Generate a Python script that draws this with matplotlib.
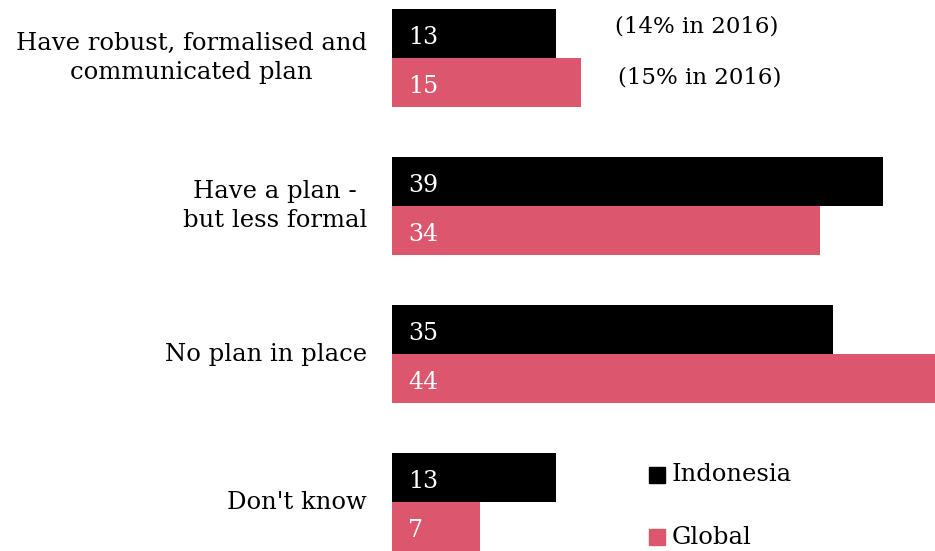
import numpy as np
from matplotlib import pyplot as plt

categories = ["Have robust, formalised and\ncommunicated plan",
              "Have a plan -\nbut less formal",
              "No plan in place",
              "Don't know"]
indonesia = [13, 39, 35, 13]
global_vals = [15, 34, 44, 7]
notes = ["(14% in 2016)", "(15% in 2016)"]

BLACK = "#000000"
PINK = "#DC566D"

plt.rcParams['font.family'] = ['DejaVu Serif']

fig = plt.figure(figsize=(9.35, 5.51), dpi=100)
ax = fig.add_axes([392 / 935, 0, 1 - 392 / 935, 1])

y = np.arange(len(categories))
h = 0.331
ax.barh(y - h / 2, indonesia, height=h, color=BLACK)
ax.barh(y + h / 2, global_vals, height=h, color=PINK)

ax.set_xlim(0, 43.1)
ax.set_ylim(3.331, -0.392)
ax.axis('off')

fs = 17.5
dy = 0.03
for i in range(len(categories)):
    ax.text(1.3, y[i] - h / 2 + dy, str(indonesia[i]), color='white', fontsize=17,
            va='center', ha='left')
    ax.text(1.3, y[i] + h / 2 + dy, str(global_vals[i]), color='white', fontsize=17,
            va='center', ha='left')
    ax.text(-25 / 12.6, y[i], categories[i], fontsize=fs, ha='right',
            va='center', multialignment='center', linespacing=1.3, clip_on=False)

# 2016 comparison notes
ax.text(24.2, -0.215, notes[0], fontsize=16.5, ha='center', va='center')
ax.text(24.4, 0.13, notes[1], fontsize=16.5, ha='center', va='center')

# legend
for k, (lab, col) in enumerate([("Indonesia", BLACK), ("Global", PINK)]):
    yy = 2.817 + k * 0.42
    ax.plot([21.0], [yy], marker='s', markersize=11, color=col, clip_on=False)
    ax.text(22.2, yy, lab, fontsize=fs, ha='left', va='center')

fig.savefig("out.png", dpi=100)
